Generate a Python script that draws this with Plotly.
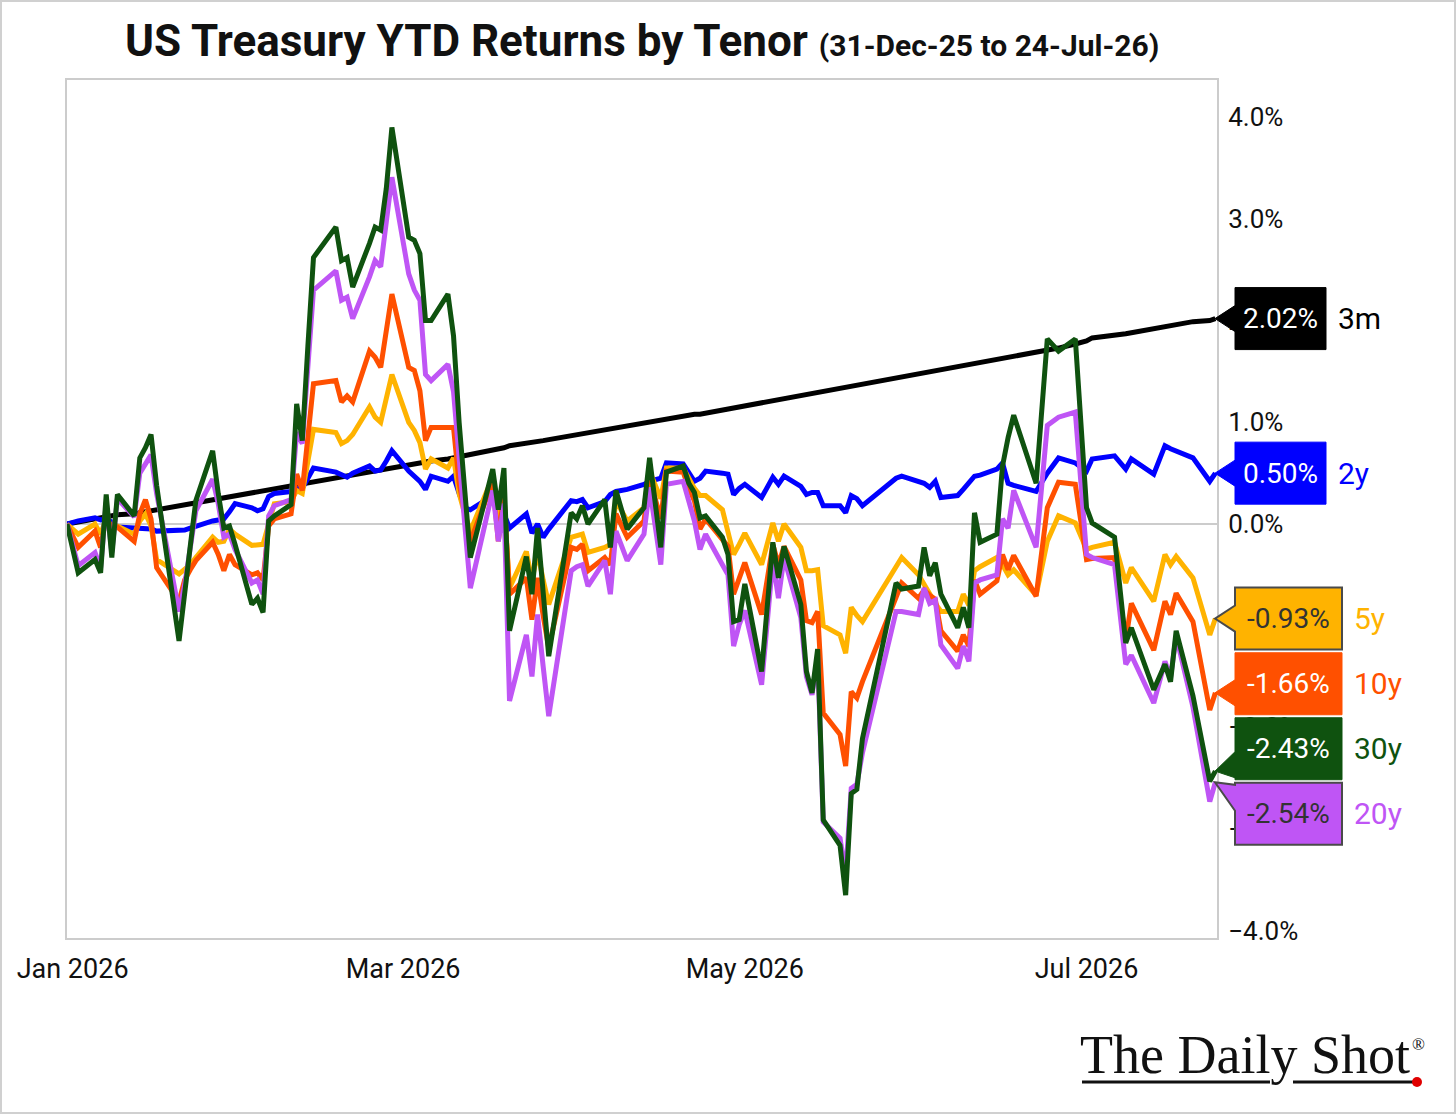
import plotly.graph_objects as go

# ---------------- data (YTD total return, %) ----------------
dates = [
    "2025-12-31", "2026-01-02", "2026-01-05", "2026-01-06", "2026-01-07", "2026-01-08", "2026-01-09", "2026-01-12", "2026-01-13", "2026-01-14",
    "2026-01-15", "2026-01-16", "2026-01-20", "2026-01-21", "2026-01-22", "2026-01-23", "2026-01-26", "2026-01-27", "2026-01-28", "2026-01-29",
    "2026-01-30", "2026-02-02", "2026-02-03", "2026-02-04", "2026-02-05", "2026-02-06", "2026-02-09", "2026-02-10", "2026-02-11", "2026-02-12",
    "2026-02-13", "2026-02-17", "2026-02-18", "2026-02-19", "2026-02-20", "2026-02-23", "2026-02-24", "2026-02-25", "2026-02-26", "2026-02-27",
    "2026-03-02", "2026-03-03", "2026-03-04", "2026-03-05", "2026-03-06", "2026-03-09", "2026-03-10", "2026-03-11", "2026-03-12", "2026-03-13",
    "2026-03-16", "2026-03-17", "2026-03-18", "2026-03-19", "2026-03-20", "2026-03-23", "2026-03-24", "2026-03-25", "2026-03-26", "2026-03-27",
    "2026-03-31", "2026-04-01", "2026-04-02", "2026-04-03", "2026-04-06", "2026-04-07", "2026-04-08", "2026-04-10", "2026-04-13", "2026-04-14",
    "2026-04-16", "2026-04-17", "2026-04-20", "2026-04-21", "2026-04-22", "2026-04-23", "2026-04-24", "2026-04-27", "2026-04-28", "2026-04-29",
    "2026-04-30", "2026-05-01", "2026-05-04", "2026-05-06", "2026-05-07", "2026-05-08", "2026-05-11", "2026-05-12", "2026-05-13", "2026-05-14",
    "2026-05-15", "2026-05-18", "2026-05-19", "2026-05-20", "2026-05-21", "2026-05-22", "2026-05-28", "2026-05-29", "2026-06-01", "2026-06-02",
    "2026-06-03", "2026-06-04", "2026-06-05", "2026-06-08", "2026-06-09", "2026-06-10", "2026-06-11", "2026-06-12", "2026-06-15", "2026-06-16",
    "2026-06-17", "2026-06-18", "2026-06-22", "2026-06-24", "2026-06-26", "2026-06-29", "2026-07-01", "2026-07-02", "2026-07-06", "2026-07-08",
    "2026-07-09", "2026-07-13", "2026-07-15", "2026-07-16", "2026-07-17", "2026-07-20", "2026-07-23", "2026-07-24",
]

ret_3m = [
    0.00, 0.02, 0.04, 0.05, 0.06, 0.08, 0.09, 0.10, 0.11, 0.12,
    0.12, 0.14, 0.18, 0.19, 0.20, 0.21, 0.24, 0.25, 0.26, 0.27,
    0.27, 0.30, 0.31, 0.32, 0.34, 0.35, 0.37, 0.38, 0.39, 0.40,
    0.42, 0.45, 0.46, 0.47, 0.48, 0.51, 0.52, 0.53, 0.54, 0.55,
    0.58, 0.59, 0.60, 0.61, 0.62, 0.64, 0.65, 0.66, 0.67, 0.68,
    0.71, 0.72, 0.74, 0.75, 0.77, 0.79, 0.80, 0.81, 0.82, 0.83,
    0.87, 0.88, 0.89, 0.90, 0.93, 0.94, 0.95, 0.97, 1.00, 1.01,
    1.03, 1.03, 1.06, 1.07, 1.08, 1.08, 1.09, 1.12, 1.13, 1.14,
    1.15, 1.16, 1.19, 1.21, 1.22, 1.23, 1.26, 1.27, 1.28, 1.30,
    1.31, 1.34, 1.35, 1.36, 1.37, 1.38, 1.44, 1.45, 1.48, 1.49,
    1.50, 1.51, 1.52, 1.55, 1.56, 1.57, 1.58, 1.59, 1.62, 1.63,
    1.64, 1.65, 1.69, 1.71, 1.73, 1.77, 1.80, 1.83, 1.85, 1.87,
    1.88, 1.92, 1.94, 1.95, 1.97, 1.99, 2.00, 2.02,
]

ret_2y = [
    0.00, 0.03, 0.06, 0.04, 0.05, 0.02, -0.03, -0.04, -0.04, -0.04,
    -0.05, -0.07, -0.07, -0.06, -0.04, -0.02, 0.03, 0.04, 0.05, 0.12,
    0.20, 0.16, 0.13, 0.15, 0.27, 0.30, 0.32, 0.35, 0.35, 0.45,
    0.55, 0.51, 0.48, 0.46, 0.50, 0.57, 0.52, 0.53, 0.62, 0.72,
    0.52, 0.47, 0.42, 0.34, 0.47, 0.42, 0.47, 0.30, 0.16, 0.14,
    0.24, 0.28, 0.20, 0.10, -0.04, 0.10, -0.09, 0.00, -0.13, -0.05,
    0.23, 0.22, 0.24, 0.16, 0.22, 0.29, 0.32, 0.34, 0.39, 0.42,
    0.45, 0.60, 0.59, 0.50, 0.42, 0.45, 0.52, 0.50, 0.49, 0.29,
    0.35, 0.39, 0.26, 0.46, 0.39, 0.47, 0.37, 0.29, 0.31, 0.31,
    0.18, 0.18, 0.11, 0.28, 0.25, 0.18, 0.45, 0.47, 0.41, 0.40,
    0.36, 0.42, 0.26, 0.28, 0.34, 0.40, 0.47, 0.48, 0.54, 0.60,
    0.40, 0.38, 0.32, 0.50, 0.65, 0.60, 0.52, 0.64, 0.67, 0.54,
    0.64, 0.49, 0.77, 0.74, 0.72, 0.65, 0.42, 0.50,
]

ret_5y = [
    0.00, -0.10, 0.00, -0.10, 0.05, -0.03, -0.02, -0.10, 0.03, 0.10,
    -0.02, -0.35, -0.49, -0.45, -0.40, -0.33, -0.13, -0.18, -0.17, -0.05,
    -0.10, -0.21, -0.21, -0.20, 0.00, 0.20, 0.22, 0.33, 0.30, 0.60,
    0.93, 0.90, 0.79, 0.82, 0.88, 1.15, 1.05, 1.00, 1.25, 1.47,
    1.00, 0.92, 0.80, 0.54, 0.64, 0.55, 0.65, 0.30, 0.10, -0.07,
    0.33, 0.46, 0.05, 0.20, -0.63, -0.27, -0.56, -0.27, -0.55, -0.79,
    -0.13, -0.12, -0.10, -0.28, -0.23, -0.20, 0.23, 0.03, 0.16, 0.52,
    0.25, 0.55, 0.55, 0.45, 0.35, 0.28, 0.28, 0.14, -0.07, -0.30,
    -0.20, -0.09, -0.40, 0.01, -0.17, 0.00, -0.23, -0.46, -0.46, -0.45,
    -1.00, -1.09, -1.27, -0.82, -0.90, -0.96, -0.42, -0.33, -0.50, -0.60,
    -0.70, -0.78, -0.86, -0.86, -0.69, -0.80, -0.46, -0.42, -0.33, -0.40,
    -0.50, -0.45, -0.70, -0.17, 0.08, 0.01, -0.25, -0.23, -0.18, -0.58,
    -0.43, -0.76, -0.30, -0.40, -0.32, -0.53, -1.09, -0.93,
]

ret_10y = [
    0.00, -0.23, -0.07, -0.23, 0.08, -0.05, -0.03, -0.17, 0.10, 0.24,
    0.05, -0.43, -0.76, -0.55, -0.45, -0.36, -0.18, -0.30, -0.46, -0.30,
    -0.40, -0.50, -0.48, -0.55, -0.02, 0.05, 0.10, 0.49, 0.33, 0.90,
    1.38, 1.41, 1.20, 1.26, 1.20, 1.70, 1.64, 1.54, 1.90, 2.26,
    1.54, 1.51, 1.31, 0.82, 0.95, 0.95, 0.95, 0.40, 0.10, -0.17,
    0.27, 0.41, -0.17, 0.30, -0.69, -0.53, -0.94, -0.53, -0.90, -1.22,
    -0.23, -0.25, -0.20, -0.46, -0.33, -0.40, 0.10, -0.13, 0.03, 0.45,
    0.05, 0.52, 0.51, 0.35, 0.23, -0.05, 0.05, -0.15, -0.22, -0.69,
    -0.55, -0.38, -0.89, -0.20, -0.40, -0.22, -0.55, -0.95, -0.97, -0.86,
    -1.86, -2.07, -2.38, -1.65, -1.71, -1.55, -0.72, -0.58, -0.73, -0.65,
    -0.70, -0.74, -1.05, -1.25, -1.09, -1.20, -0.55, -0.69, -0.56, -0.30,
    -0.45, -0.31, -0.71, 0.16, 0.41, 0.39, -0.35, -0.34, -0.33, -1.15,
    -0.78, -1.24, -0.76, -0.89, -0.68, -0.96, -1.83, -1.66,
]

ret_20y = [
    0.00, -0.41, -0.28, -0.43, 0.22, -0.28, 0.25, 0.07, 0.50, 0.60,
    0.68, 0.30, -0.86, -0.60, -0.20, 0.13, 0.44, 0.20, -0.13, -0.10,
    -0.25, -0.58, -0.55, -0.69, 0.08, 0.18, 0.24, 0.90, 0.79, 1.50,
    2.30, 2.49, 2.20, 2.23, 2.02, 2.43, 2.59, 2.53, 2.95, 3.41,
    2.46, 2.30, 2.20, 1.47, 1.41, 1.57, 1.30, 0.60, 0.00, -0.63,
    0.09, 0.33, -0.17, 0.20, -1.74, -1.09, -1.50, -0.89, -1.40, -1.89,
    -0.46, -0.42, -0.40, -0.61, -0.36, -0.69, -0.07, -0.36, -0.10, 0.36,
    -0.40, 0.39, 0.42, 0.20, 0.03, -0.25, -0.10, -0.40, -0.50, -1.20,
    -0.99, -0.85, -1.58, -0.36, -0.73, -0.33, -0.92, -1.50, -1.68, -1.30,
    -2.93, -3.09, -3.45, -2.60, -2.56, -2.25, -0.86, -0.86, -0.89, -0.63,
    -0.78, -0.75, -1.19, -1.42, -1.20, -1.35, -0.58, -0.55, -0.50, 0.05,
    -0.04, 0.33, -0.23, 0.97, 1.05, 1.10, -0.30, -0.33, -0.40, -1.38,
    -1.29, -1.76, -1.35, -1.51, -1.10, -1.80, -2.73, -2.54,
]

ret_30y = [
    0.00, -0.48, -0.35, -0.48, 0.29, -0.33, 0.29, 0.08, 0.65, 0.75,
    0.88, 0.38, -1.15, -0.65, -0.22, 0.23, 0.72, 0.30, -0.04, -0.02,
    -0.20, -0.79, -0.73, -0.87, 0.03, 0.08, 0.19, 1.18, 0.82, 1.75,
    2.62, 2.92, 2.59, 2.62, 2.33, 2.76, 2.92, 2.89, 3.30, 3.90,
    2.82, 2.79, 2.66, 2.00, 2.00, 2.26, 1.85, 1.00, 0.30, -0.33,
    0.32, 0.54, 0.14, 0.55, -1.05, -0.32, -0.69, -0.04, -0.67, -1.30,
    0.11, 0.05, 0.18, 0.00, 0.24, -0.23, 0.33, -0.05, 0.16, 0.65,
    -0.23, 0.51, 0.57, 0.40, 0.31, 0.06, 0.08, -0.13, -0.30, -0.96,
    -0.94, -0.59, -1.45, -0.18, -0.53, -0.22, -0.79, -1.45, -1.66, -1.23,
    -2.91, -3.16, -3.65, -2.65, -2.61, -2.11, -0.58, -0.64, -0.61, -0.23,
    -0.51, -0.38, -0.69, -1.02, -0.82, -1.02, 0.11, -0.18, -0.10, 0.57,
    0.85, 1.07, 0.40, 1.82, 1.70, 1.82, 0.16, 0.01, -0.13, -1.17,
    -1.02, -1.63, -1.38, -1.55, -1.05, -1.69, -2.53, -2.43,
]

tenors = ["3m", "2y", "5y", "10y", "20y", "30y"]
y_ticks = [-4, -3, -2, -1, 0, 1, 2, 3, 4]
y_tick_labels = [("\u2212" if v < 0 else "") + f"{abs(v):.1f}%" for v in y_ticks]

# ---------------- layout geometry ----------------
W, H = 1456, 1114
ML, MR, MT, MB = 67, 239, 80, 176
PW, PH = W - ML - MR, H - MT - MB
Y_MIN, Y_MAX = -4.071, 4.366
PPU = PH / (Y_MAX - Y_MIN)


def xp(px):
    return (px - ML) / PW


def yp(py):
    return (H - MB - py) / PH


def du(px):
    return px / PPU


FONT = "Roboto, 'Noto Sans', sans-serif"

styles = {
    "3m": dict(color="#000000", txt="#ffffff", border=None),
    "2y": dict(color="#0000ff", txt="#ffffff", border=None),
    "5y": dict(color="#ffb300", txt="#333333", border="#4a4a4a"),
    "10y": dict(color="#ff5000", txt="#ffffff", border=None),
    "20y": dict(color="#bf55f5", txt="#333333", border="#4a4a4a"),
    "30y": dict(color="#0f520f", txt="#ffffff", border=None),
}
values = {"3m": ret_3m, "2y": ret_2y, "5y": ret_5y, "10y": ret_10y, "20y": ret_20y, "30y": ret_30y}
for k, v in values.items():
    assert len(v) == len(dates), (k, len(v), len(dates))

fig = go.Figure()
for t in tenors:
    fig.add_trace(go.Scatter(
        x=dates, y=values[t], mode="lines", name=t,
        line=dict(color=styles[t]["color"], width=5),
        hoverinfo="skip", showlegend=False,
    ))

# ---------------- end-value tags (de-overlapped) ----------------
GAP = du(65)
order = sorted(tenors, key=lambda t: -values[t][-1])
clusters = [[t] for t in order]


def cluster_pos(cl):
    c = sum(values[t][-1] for t in cl) / len(cl)
    n = len(cl)
    return [c + GAP * ((n - 1) / 2 - i) for i in range(n)]


changed = True
while changed:
    changed = False
    for i in range(len(clusters) - 1):
        a, b = cluster_pos(clusters[i]), cluster_pos(clusters[i + 1])
        if a[-1] - b[0] < GAP - 1e-9:
            clusters[i] = clusters[i] + clusters[i + 1]
            del clusters[i + 1]
            changed = True
            break
label_pos = {}
for cl in clusters:
    for t, p in zip(cl, cluster_pos(cl)):
        label_pos[t] = p

TIP_PX, BOX_L_PX = 1215, 1235
HALF_H, ARROW_H = du(31), du(13)
for t in tenors:
    st = styles[t]
    v = values[t][-1]
    p = label_pos[t]
    label = f"{v:.2f}%"
    box_w = 11 + 16 * len(label)
    bl, br = xp(BOX_L_PX), xp(BOX_L_PX + box_w)
    top, bot = p + HALF_H, p - HALF_H
    base = min(max(v, bot + ARROW_H + du(2)), top - ARROW_H - du(2))
    path = (f"M {xp(TIP_PX)},{v} L {bl},{base + ARROW_H} L {bl},{top} L {br},{top} "
            f"L {br},{bot} L {bl},{bot} L {bl},{base - ARROW_H} Z")
    fig.add_shape(type="path", path=path, xref="paper", yref="y",
                  fillcolor=st["color"],
                  line=dict(color=st["border"] or st["color"], width=2 if st["border"] else 1),
                  layer="above")
    fig.add_annotation(x=(bl + br) / 2, y=p, xref="paper", yref="y", text=label,
                       showarrow=False, xanchor="center", yanchor="middle",
                       font=dict(family=FONT, size=28, color=st["txt"]))
    fig.add_annotation(x=xp(BOX_L_PX + box_w + 10), y=p, xref="paper", yref="y", text=t,
                       showarrow=False, xanchor="left", yanchor="middle",
                       font=dict(family=FONT, size=30, color=st["color"]))

# ---------------- title ----------------
fig.add_annotation(
    x=0.5, y=yp(41), xref="paper", yref="paper", showarrow=False,
    xanchor="center", yanchor="middle",
    text="<b>US Treasury YTD Returns by Tenor</b> <b><span style='font-size:30px'>(31-Dec-25 to 24-Jul-26)</span></b>",
    font=dict(family=FONT, size=44, color="#111111"),
)

# ---------------- logo ----------------
fig.add_annotation(
    x=xp(1078), y=yp(1055), xref="paper", yref="paper", showarrow=False,
    xanchor="left", yanchor="middle", text="The Daily Shot",
    font=dict(family="'Liberation Serif', 'DejaVu Serif', serif", size=54, color="#111111"),
)
fig.add_annotation(
    x=xp(1410), y=yp(1044), xref="paper", yref="paper", showarrow=False,
    xanchor="left", yanchor="middle", text="®",
    font=dict(family="'Liberation Serif', serif", size=17, color="#111111"),
)
fig.add_shape(type="line", xref="paper", yref="paper", x0=xp(1082), x1=xp(1270), y0=yp(1082), y1=yp(1082),
              line=dict(color="#111111", width=3), layer="above")
fig.add_shape(type="line", xref="paper", yref="paper", x0=xp(1293), x1=xp(1414), y0=yp(1082), y1=yp(1082),
              line=dict(color="#111111", width=3), layer="above")
fig.add_shape(type="circle", xref="paper", yref="paper", x0=xp(1412), x1=xp(1422), y0=yp(1087), y1=yp(1077),
              fillcolor="#e00000", line=dict(color="#e00000", width=0), layer="above")

# outer frame
fig.add_shape(type="rect", xref="paper", yref="paper", x0=xp(1), x1=xp(1455), y0=yp(1113), y1=yp(1),
              line=dict(color="#d0d0d0", width=2), layer="above")

fig.update_layout(
    width=W, height=H,
    margin=dict(l=ML, r=MR, t=MT, b=MB, pad=0),
    paper_bgcolor="white", plot_bgcolor="white",
    showlegend=False,
    font=dict(family=FONT, color="#111111"),
    xaxis=dict(
        type="date", range=["2025-12-31", "2026-07-24 07:00"],
        tick0="2026-01-01", dtick="M2", tickformat="%b %Y",
        showgrid=False, zeroline=False, ticks="",
        showline=True, mirror=True, linecolor="#cccccc", linewidth=2,
        tickfont=dict(family=FONT, size=27, color="#111111"),
        ticklabelstandoff=6,
    ),
    yaxis=dict(
        side="right", range=[Y_MIN, Y_MAX],
        tickmode="array", tickvals=y_ticks, ticktext=y_tick_labels,
        showgrid=False, ticks="",
        zeroline=True, zerolinecolor="#cccccc", zerolinewidth=2,
        showline=True, mirror=True, linecolor="#cccccc", linewidth=2,
        tickfont=dict(family=FONT, size=26, color="#111111"),
        ticklabelstandoff=4,
    ),
)

fig.write_html("out.html")
